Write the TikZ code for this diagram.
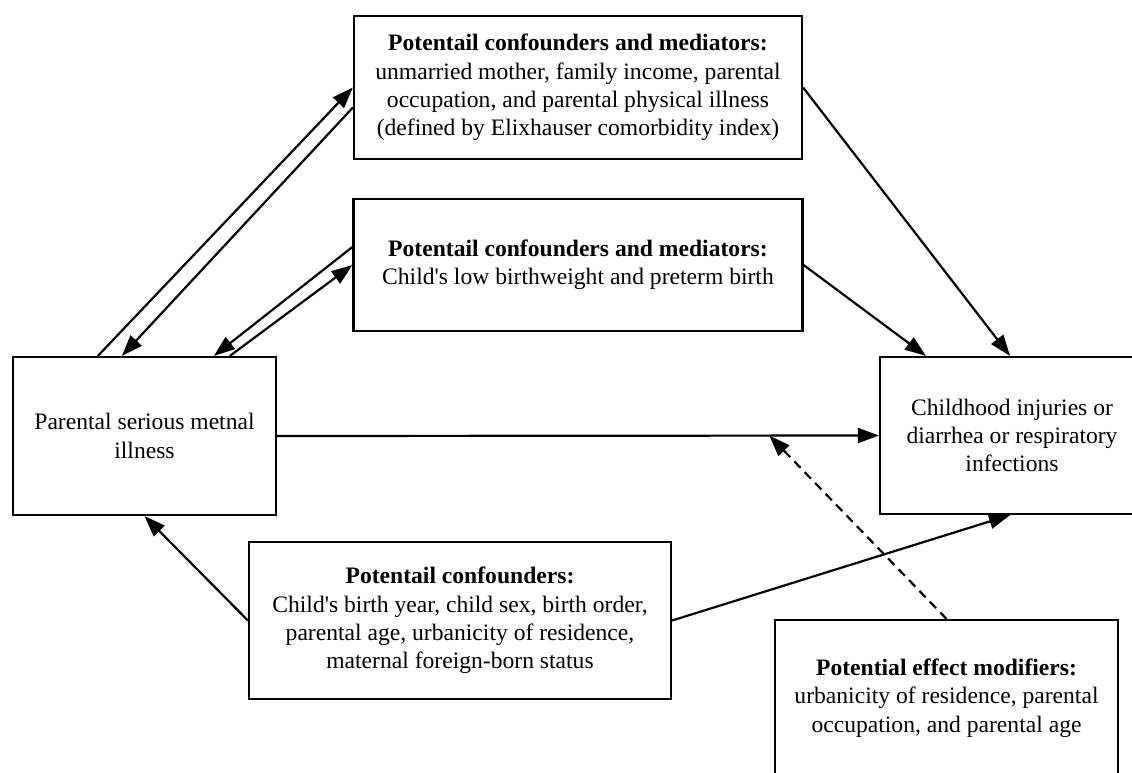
\documentclass[tikz,border=0pt]{standalone}
\usepackage{fontspec}
\newfontfamily\diagfont{Liberation Serif}
\usepackage{tikz}
\usetikzlibrary{arrows.meta, positioning, calc}

\begin{document}
\begin{tikzpicture}[x=1pt, y=-1pt,
  box/.style={draw, line width=2.2pt, align=center, inner sep=0pt,
    font=\diagfont\fontsize{23.6}{28.4}\selectfont},
  link/.style={line width=2.2pt, -{Triangle[length=21pt,width=15pt]}}]
\useasboundingbox (0,0) rectangle (1132,772);
% Boxes
\node[box, minimum width=448pt, minimum height=143pt] (conf1) at (578,87.5)
  {\textbf{Potentail confounders and mediators:}\\unmarried mother, family income, parental\\occupation, and parental physical illness\\(defined by Elixhauser comorbidity index)};
\node[box, minimum width=449pt, minimum height=132pt] (conf2) at (578,265)
  {\textbf{Potentail confounders and mediators:}\\Child's low birthweight and preterm birth};
\node[box, minimum width=263pt, minimum height=158pt] (psmi) at (144.5,436)
  {Parental serious metnal\\illness};
\node[box, minimum width=264pt, minimum height=157pt] (outc) at (1012,435.5)
  {Childhood injuries or\\diarrhea or respiratory\\infections};
\node[box, minimum width=422pt, minimum height=157pt] (conf3) at (460,620.5)
  {\textbf{Potentail confounders:}\\Child's birth year, child sex, birth order,\\parental age, urbanicity of residence,\\maternal foreign-born status};
\node[box, minimum width=343pt, minimum height=156pt] (modif) at (946.5,698)
  {\textbf{Potential effect modifiers:}\\urbanicity of residence, parental\\occupation, and parental age};
% Arrows between exposure and mediators
\draw[link] ([xshift=86pt]psmi.north west) -- (conf1.west);
\draw[link] ([yshift=-20pt]conf1.west) -- ([xshift=110pt]psmi.north west);
\draw[link] ([yshift=18pt]conf2.west) -- ([xshift=202pt]psmi.north west);
\draw[link] ([xshift=218pt]psmi.north west) -- (conf2.west);
% Arrows into the outcome
\draw[link] (conf1.east) -- ([xshift=-2pt]outc.north);
\draw[link] (conf2.east) -- ([xshift=47pt]outc.north west);
\draw[link] (psmi.east) -- (outc.west);
\draw[link] (conf3.west) -- (psmi.south);
\draw[link] (conf3.east) -- ([xshift=-2pt]outc.south);
% Effect modification
\coordinate (effect) at ($(psmi.east)!0.818!(outc.west)$);
\draw[link, dash pattern=on 9pt off 6pt] (modif.north) -- (effect);
\end{tikzpicture}
\end{document}
